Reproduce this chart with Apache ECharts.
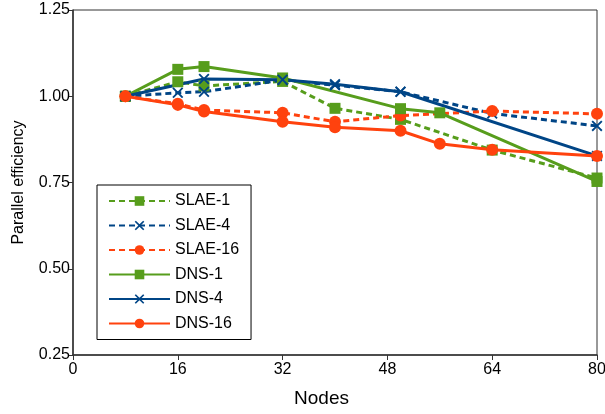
<!DOCTYPE html>
<html>
<head>
<meta charset="utf-8">
<script src="https://cdn.jsdelivr.net/npm/echarts@6/dist/echarts.min.js"></script>
<style>html,body{margin:0;padding:0;background:#fff}#c{width:605px;height:414px}</style>
</head>
<body>
<div id="c"></div>
<script>
const xTicks = [0, 16, 32, 48, 64, 80];
const yTicks = [0.25, 0.50, 0.75, 1.00, 1.25];

const slae1X = [8, 16, 20, 32, 40, 50, 64, 80];
const slae1Y = [1.00, 1.042, 1.030, 1.043, 0.965, 0.933, 0.844, 0.763];
const slae4X = [8, 16, 20, 32, 40, 50, 64, 80];
const slae4Y = [1.00, 1.010, 1.013, 1.047, 1.032, 1.013, 0.950, 0.914];
const slae16X = [8, 16, 20, 32, 40, 50, 64, 80];
const slae16Y = [1.00, 0.978, 0.960, 0.952, 0.926, 0.944, 0.957, 0.949];
const dns1X = [8, 16, 20, 32, 50, 56, 80];
const dns1Y = [1.00, 1.078, 1.086, 1.053, 0.964, 0.952, 0.753];
const dns4X = [8, 20, 32, 40, 50, 80];
const dns4Y = [1.00, 1.050, 1.048, 1.035, 1.013, 0.827];
const dns16X = [8, 16, 20, 32, 40, 50, 56, 64, 80];
const dns16Y = [1.00, 0.975, 0.956, 0.926, 0.910, 0.900, 0.862, 0.845, 0.827];

const GREEN = '#579d1c', BLUE = '#004586', RED = '#ff420e';
const XSYM = 'path://M0,1.2 L1.2,0 L5,3.8 L8.8,0 L10,1.2 L6.2,5 L10,8.8 L8.8,10 L5,6.2 L1.2,10 L0,8.8 L3.8,5 Z';

function pairs(xs, ys) { return xs.map((x, i) => [x, ys[i]]); }
function mk(name, xs, ys, color, dashed, symbol, size) {
  return {
    name, type: 'line', data: pairs(xs, ys),
    symbol, symbolSize: size, showSymbol: true,
    lineStyle: { color, width: 3, type: dashed ? [6, 4] : 'solid' },
    itemStyle: { color },
    emphasis: { disabled: true },
    animation: false
  };
}

const chart = echarts.init(document.getElementById('c'), null, { renderer: 'canvas' });
chart.setOption({
  backgroundColor: '#fff',
  textStyle: { fontFamily: 'Liberation Sans' },
  grid: { left: 73, right: 8, top: 10, bottom: 59, show: true, borderColor: '#333', borderWidth: 1,
    containLabel: false, outerBoundsMode: 'none' },
  xAxis: {
    type: 'value', min: 0, max: 80, interval: 16,
    name: 'Nodes', nameLocation: 'middle', nameGap: 34,
    nameTextStyle: { fontSize: 19, color: '#000', fontFamily: 'Liberation Sans', padding: [0, 27, 0, 0] },
    axisLine: { lineStyle: { color: '#333', width: 1.5 } },
    axisTick: { show: true, length: 5, lineStyle: { color: '#333' } },
    axisLabel: { fontSize: 16, color: '#000', margin: 7, fontFamily: 'Liberation Sans',
      formatter: v => xTicks.includes(v) ? String(v) : '' },
    splitLine: { show: false }
  },
  yAxis: {
    type: 'value', min: 0.25, max: 1.25, interval: 0.25,
    name: 'Parallel efficiency', nameLocation: 'middle', nameGap: 46,
    nameTextStyle: { fontSize: 16, color: '#000', fontFamily: 'Liberation Sans' },
    axisLine: { show: true, lineStyle: { color: '#333', width: 1.5 } },
    axisTick: { show: true, length: 4, lineStyle: { color: '#333' } },
    axisLabel: { fontSize: 16, color: '#000', margin: 3, fontFamily: 'Liberation Sans',
      formatter: v => yTicks.find(t => Math.abs(t - v) < 1e-9) !== undefined ? v.toFixed(2) : '' },
    splitLine: { show: false }
  },
  legend: {
    orient: 'vertical', left: 97, top: 185,
    backgroundColor: '#fff', borderColor: '#000', borderWidth: 1,
    padding: [8, 12, 8, 11], itemWidth: 61, itemHeight: 12, itemGap: 8.5,
    textStyle: { fontSize: 16, lineHeight: 16, color: '#000', fontFamily: 'Liberation Sans' },
    data: ['SLAE-1', 'SLAE-4', 'SLAE-16', 'DNS-1', 'DNS-4', 'DNS-16']
  },
  series: [
    mk('SLAE-1', slae1X, slae1Y, GREEN, true, 'rect', 11),
    mk('SLAE-4', slae4X, slae4Y, BLUE, true, XSYM, 11),
    mk('SLAE-16', slae16X, slae16Y, RED, true, 'circle', 12),
    mk('DNS-1', dns1X, dns1Y, GREEN, false, 'rect', 11),
    mk('DNS-4', dns4X, dns4Y, BLUE, false, XSYM, 11),
    mk('DNS-16', dns16X, dns16Y, RED, false, 'circle', 12)
  ]
});
</script>
</body>
</html>
